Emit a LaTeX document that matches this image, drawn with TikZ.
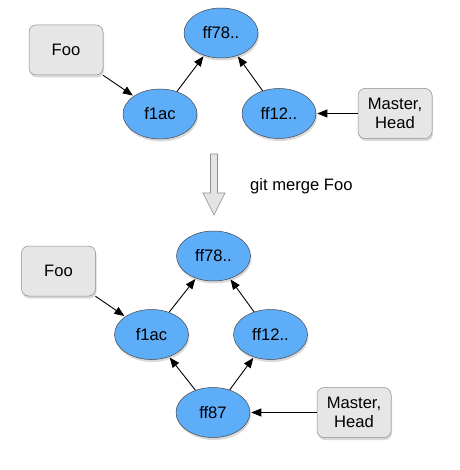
\documentclass[tikz,border=0pt]{standalone}
\usepackage{fontspec}
\setmainfont{Liberation Sans}
\usetikzlibrary{shapes.geometric,arrows.meta,shadows}
\definecolor{commitfill}{RGB}{93,173,248}
\definecolor{commitline}{RGB}{70,70,70}
\definecolor{reffill}{RGB}{230,230,230}
\definecolor{refline}{RGB}{140,140,140}
\definecolor{bigarrow}{RGB}{228,228,228}
\begin{document}
\begin{tikzpicture}[x=1pt,y=-1pt,
  every node/.style={font=\fontsize{16.6}{19}\selectfont},
  commit/.style={ellipse, draw=commitline, line width=0.5pt, fill=commitfill,
    minimum width=74pt, minimum height=50pt, inner sep=0pt,
    drop shadow={opacity=0.3, shadow xshift=1pt, shadow yshift=-2.5pt}},
  refbox/.style={rectangle, rounded corners=7pt, draw=refline, line width=0.5pt, fill=reffill,
    minimum width=74pt, minimum height=50pt, inner sep=0pt, align=center,
    drop shadow={opacity=0.3, shadow xshift=1pt, shadow yshift=-2.5pt}},
  link/.style={-{Triangle[length=10pt,width=8pt]}, line width=0.9pt, black, shorten >=1pt, shorten <=0pt}
]
\useasboundingbox (0,0) rectangle (459,470);
% top
\node[refbox] (foo1) at (66,50) {Foo};
\node[commit] (ff78a) at (221,33) {ff78..};
\node[commit] (f1aca) at (160,114) {f1ac};
\node[commit] (ff12a) at (279,113.5) {ff12..};
\node[refbox] (mast1) at (395,113.5) {Master,\\Head};
\draw[link] (foo1) -- (f1aca);
\draw[link] (f1aca) -- (ff78a);
\draw[link] (ff12a) -- (ff78a);
\draw[link] (mast1) -- (ff12a);
% merge arrow
\draw[refline, fill=bigarrow, line width=0.6pt]
  (210.5,154) -- (217.5,154) -- (217.5,193) -- (225,193) -- (214,215) -- (203,193) -- (210.5,193) -- cycle;
\node[anchor=west, inner sep=0pt] (mergelbl) at (250,186) {git merge Foo};
% bottom
\node[refbox] (foo2) at (58.5,271) {Foo};
\node[commit] (ff78b) at (213.5,256) {ff78..};
\node[commit] (f1acb) at (151.5,334.5) {f1ac};
\node[commit] (ff12b) at (270.5,334.5) {ff12..};
\node[commit] (ff87b) at (213,412.5) {ff87};
\node[refbox] (mast2) at (354,412.5) {Master,\\Head};
\draw[link] (foo2) -- (f1acb);
\draw[link] (f1acb) -- (ff78b);
\draw[link] (ff12b) -- (ff78b);
\draw[link] (ff87b) -- (f1acb);
\draw[link] (ff87b) -- (ff12b);
\draw[link] (mast2) -- (ff87b);
\end{tikzpicture}
\end{document}
